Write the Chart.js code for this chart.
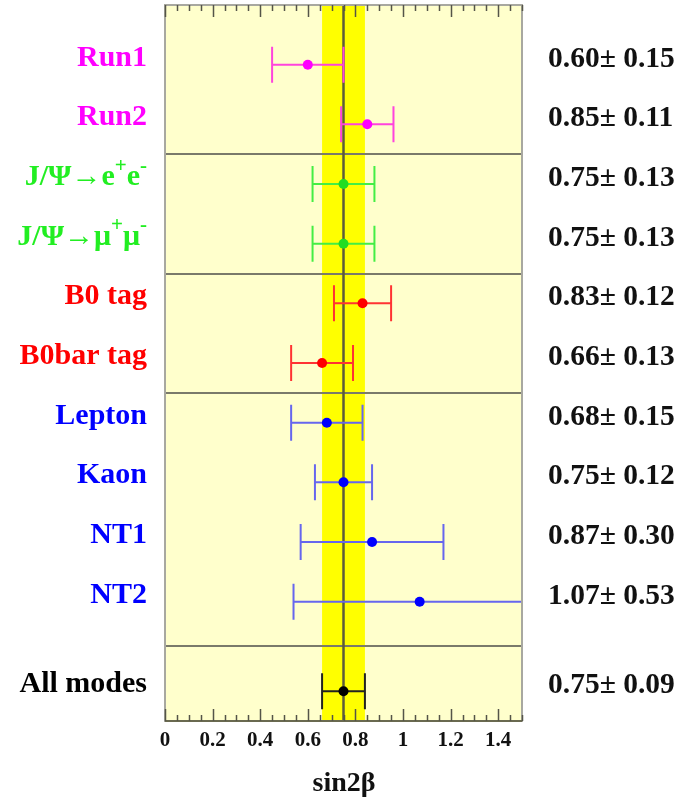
<!DOCTYPE html>
<html><head><meta charset="utf-8">
<script src="https://cdn.jsdelivr.net/npm/chart.js@4"></script>
<style>html,body{margin:0;padding:0;background:#fff}</style>
</head><body>
<canvas id="c" width="685" height="799"></canvas>
<script>
// sin2β measurements by subsample
const categories = ['Run1', 'Run2', 'J/Ψ→e^{+}e^{-}', 'J/Ψ→μ^{+}μ^{-}', 'B0 tag', 'B0bar tag',
                    'Lepton', 'Kaon', 'NT1', 'NT2', 'All modes'];
const values = [0.60, 0.85, 0.75, 0.75, 0.83, 0.66, 0.68, 0.75, 0.87, 1.07, 0.75];
const errors = [0.15, 0.11, 0.13, 0.13, 0.12, 0.13, 0.15, 0.12, 0.30, 0.53, 0.09];
const tickValues = [0, 0.2, 0.4, 0.6, 0.8, 1.0, 1.2, 1.4];
const tickLabels = ['0', '0.2', '0.4', '0.6', '0.8', '1', '1.2', '1.4'];
const axisTitle = 'sin2β';
const combinedIndex = 10; // "All modes" sets the band

// layout of the rows: groups separated by lines, combined result set apart
const rowSlot = categories.map((_, i) => i < 10 ? i + 1 : 11.5);
const separators = [2.5, 4.5, 6.5, 10.75];

// colours per group
const labelColors = ['#ff00ff', '#ff00ff', '#22ee22', '#22ee22', '#ff0000', '#ff0000',
                     '#0000ff', '#0000ff', '#0000ff', '#0000ff', '#000000'];
const barColors   = ['#ff44dd', '#ff44dd', '#44ee44', '#44ee44', '#ff3333', '#ff3333',
                     '#6666ee', '#6666ee', '#6666ee', '#6666ee', '#222222'];
const pointColors = ['#ff00ff', '#ff00ff', '#22dd22', '#22dd22', '#ff0000', '#ff0000',
                     '#0000ff', '#0000ff', '#0000ff', '#0000ff', '#000000'];

const SERIF = '"Liberation Serif", "DejaVu Serif", serif';

// draw a label containing ^{...} superscripts, right-aligned at x
function drawRich(ctx, text, xRight, yBase, size) {
  const parts = [];
  const re = /\^\{([^}]*)\}/g;
  let last = 0, m;
  while ((m = re.exec(text)) !== null) {
    if (m.index > last) parts.push({t: text.slice(last, m.index), sup: false});
    parts.push({t: m[1], sup: true});
    last = re.lastIndex;
  }
  if (last < text.length) parts.push({t: text.slice(last), sup: false});
  const supSize = Math.round(size * 0.7);
  let total = 0;
  parts.forEach(p => {
    ctx.font = 'bold ' + (p.sup ? supSize : size) + 'px ' + SERIF;
    p.w = ctx.measureText(p.t).width;
    total += p.w;
  });
  let x = xRight - total;
  ctx.textAlign = 'left';
  parts.forEach(p => {
    ctx.font = 'bold ' + (p.sup ? supSize : size) + 'px ' + SERIF;
    ctx.fillText(p.t, x, p.sup ? yBase - size * 0.45 : yBase);
    x += p.w;
  });
}

const forestPlugin = {
  id: 'forest',
  beforeDatasetsDraw(chart) {
    const {ctx, chartArea: a, scales: {x, y}} = chart;
    ctx.save();
    // frame fill
    ctx.fillStyle = '#ffffcc';
    ctx.fillRect(a.left, a.top, a.right - a.left, a.bottom - a.top);
    // combined ±1σ band
    const c = values[combinedIndex], e = errors[combinedIndex];
    const bx0 = x.getPixelForValue(c - e), bx1 = x.getPixelForValue(c + e);
    ctx.fillStyle = '#ffff00';
    ctx.fillRect(bx0, a.top, bx1 - bx0, a.bottom - a.top);
    // group separators
    ctx.strokeStyle = '#7a7a6a';
    ctx.lineWidth = 2;
    separators.forEach(s => {
      const py = Math.round(y.getPixelForValue(s));
      ctx.beginPath(); ctx.moveTo(a.left, py); ctx.lineTo(a.right, py); ctx.stroke();
    });
    // central value line
    const cx = x.getPixelForValue(c);
    ctx.strokeStyle = '#5c5c3c';
    ctx.lineWidth = 2.5;
    ctx.beginPath(); ctx.moveTo(cx, a.top); ctx.lineTo(cx, a.bottom); ctx.stroke();
    // error bars, clipped to the frame
    ctx.beginPath(); ctx.rect(a.left, a.top, a.right - a.left, a.bottom - a.top); ctx.clip();
    ctx.lineWidth = 2;
    values.forEach((v, i) => {
      const py = y.getPixelForValue(rowSlot[i]);
      const x0 = x.getPixelForValue(v - errors[i]);
      const x1 = x.getPixelForValue(v + errors[i]);
      ctx.strokeStyle = barColors[i];
      ctx.beginPath();
      ctx.moveTo(x0, py); ctx.lineTo(x1, py);
      ctx.moveTo(x0, py - 18); ctx.lineTo(x0, py + 18);
      ctx.moveTo(x1, py - 18); ctx.lineTo(x1, py + 18);
      ctx.stroke();
    });
    ctx.restore();
  },
  afterDatasetsDraw(chart) {
    const {ctx, chartArea: a, scales: {x, y}} = chart;
    ctx.save();
    // frame
    ctx.strokeStyle = '#a8a8a0';
    ctx.lineWidth = 2;
    ctx.strokeRect(a.left, a.top, a.right - a.left, a.bottom - a.top);
    ctx.strokeStyle = '#6a6a50';
    ctx.beginPath(); ctx.moveTo(a.left, a.bottom); ctx.lineTo(a.right, a.bottom); ctx.stroke();
    // ticks on bottom and top edges
    ctx.strokeStyle = '#555548';
    ctx.lineWidth = 1.5;
    for (let k = 0; k <= 30; k++) {
      const v = k * 0.05;
      const px = Math.round(x.getPixelForValue(v)) + 0.5;
      const len = (k % 4 === 0) ? 12 : 6;
      ctx.beginPath();
      ctx.moveTo(px, a.bottom); ctx.lineTo(px, a.bottom - len);
      ctx.moveTo(px, a.top); ctx.lineTo(px, a.top + len);
      ctx.stroke();
    }
    // tick labels
    ctx.fillStyle = '#111';
    ctx.font = 'bold 21px ' + SERIF;
    ctx.textAlign = 'center';
    ctx.textBaseline = 'alphabetic';
    tickValues.forEach((v, i) => {
      ctx.fillText(tickLabels[i], x.getPixelForValue(v), a.bottom + 25);
    });
    // axis title
    ctx.font = 'bold 28px ' + SERIF;
    ctx.fillText(axisTitle, (a.left + a.right) / 2 + 0.5, 791);
    // row labels and values
    categories.forEach((lab, i) => {
      const py = y.getPixelForValue(rowSlot[i]);
      ctx.fillStyle = labelColors[i];
      drawRich(ctx, lab, 147, py + 1, 30);
      ctx.fillStyle = '#111';
      ctx.font = 'bold 29.5px ' + SERIF;
      ctx.textAlign = 'left';
      ctx.fillText(values[i].toFixed(2) + '± ' + errors[i].toFixed(2), 548, py + 2);
    });
    ctx.restore();
  }
};

new Chart(document.getElementById('c'), {
  type: 'scatter',
  data: {
    datasets: [{
      data: values.map((v, i) => ({x: v, y: rowSlot[i]})),
      pointBackgroundColor: pointColors,
      pointBorderWidth: 0,
      pointRadius: 5,
      pointHoverRadius: 5
    }]
  },
  options: {
    responsive: false,
    animation: false,
    layout: {padding: {left: 165, right: 163, top: 5, bottom: 78}},
    scales: {
      x: {type: 'linear', min: 0, max: 1.5, display: false},
      y: {type: 'linear', min: 0, max: 12, reverse: true, display: false}
    },
    plugins: {legend: {display: false}, tooltip: {enabled: false}}
  },
  plugins: [forestPlugin]
});
</script>
</body></html>
